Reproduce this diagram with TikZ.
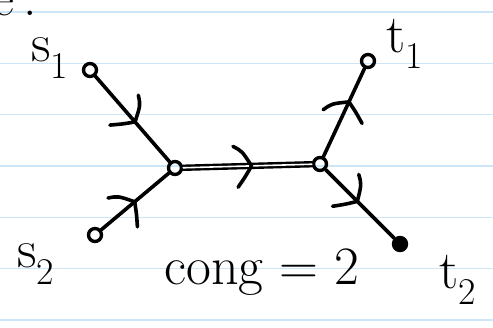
\documentclass[tikz,border=0pt]{standalone}
\usepackage{fontspec}
\usetikzlibrary{decorations.markings}
\definecolor{paperline}{RGB}{204,230,248}

\tikzset{
  vertex/.style={circle, draw, line width=3.4pt, inner sep=0pt, minimum size=13pt},
  edge/.style={line width=3.6pt, line cap=round},
  mark line/.style={line width=3.6pt, line cap=round, line join=round},
  flow/.style={postaction={decorate, decoration={markings,
      mark=at position #1 with {\draw[mark line] (-14pt,20pt) .. controls (-5pt,15pt) .. (4pt,0pt) .. controls (-2pt,-10pt) .. (-10pt,-21pt);}}}},
  hand/.style={font=\fontsize{54}{60}\selectfont, inner sep=0pt}
}

\begin{document}
\begin{tikzpicture}[line cap=round, line join=round, x=1pt, y=-1pt]
  \useasboundingbox (0,0) rectangle (493,327);
  \clip (0,0) rectangle (493,327);

  % paper lines
  \foreach \yy in {12,63.3,114.6,166,217.3,268.6,320}
    \draw[color=paperline, line width=1.4pt] (0,\yy) -- (493,\yy);

  % cut off heading
  \node[hand, anchor=base west] (head) at (-8,15) {e\,:};

  % vertices
  \node[vertex] (s1) at (90,70) {};
  \node[vertex] (s2) at (95,235) {};
  \node[vertex] (u) at (175,168) {};
  \node[vertex] (v) at (320,164) {};
  \node[vertex] (t1) at (368,61) {};
  \node[vertex, fill] (t2) at (400,244) {};

  % edges
  \draw[edge, flow=0.5] (s1) -- (u);
  \draw[edge, flow=0.45] (s2) -- (u);
  \draw[line width=2.4pt, double, double distance=1.6pt] (u) -- (v);
  \path[flow=0.5] (u) -- (v);
  \draw[edge, flow=0.58] (v) -- (t1);
  \draw[edge, flow=0.42] (v) -- (t2);

  % labels
  \node[hand] (s1lab) at (50,58) {s\textsubscript{1}};
  \node[hand] (s2lab) at (36,264) {s\textsubscript{2}};
  \node[hand] (t1lab) at (405,44) {t\textsubscript{1}};
  \node[hand] (t2lab) at (458,280) {t\textsubscript{2}};
  \node[hand, anchor=base] (cong) at (262,284) {cong = 2};
\end{tikzpicture}
\end{document}
